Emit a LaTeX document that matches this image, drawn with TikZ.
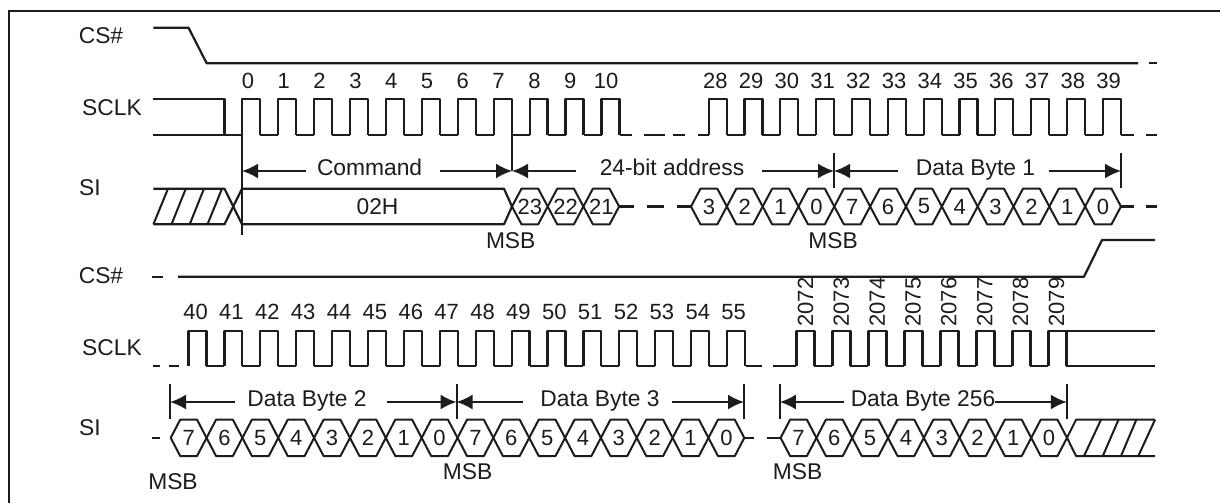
\documentclass[tikz,border=0pt]{standalone}
\usepackage{fontspec}
\setmainfont{Liberation Sans}
\usetikzlibrary{arrows.meta}
\definecolor{ink}{HTML}{1C1C1C}
\tikzset{
  wave/.style={draw=ink,line width=2.2pt,line join=round},
  thin wave/.style={draw=ink,line width=2pt,line join=round},
  span/.style={draw=ink,line width=2pt,-{Latex[length=16pt,width=15pt]}},
  tick line/.style={draw=ink,line width=2pt},
  lab/.style={text=ink,font=\fontsize{22.8}{23}\selectfont,inner sep=0pt},
  digit/.style={text=ink,font=\fontsize{22}{23}\selectfont,inner sep=0pt},
}
% \pulsetrain{first rising x}{period}{count}{high y}{low y}
\newcommand{\pulsetrain}[5]{%
  \foreach \k in {1,...,#3}{%
    \pgfmathsetmacro{\xa}{#1+(\k-1)*#2}%
    \pgfmathsetmacro{\xb}{\xa+#2/2}%
    \pgfmathsetmacro{\xc}{\xa+#2}%
    \draw[wave] (\xa,#5) -- (\xa,#4) -- (\xb,#4) -- (\xb,#5);
    \ifnum\k<#3 \draw[wave] (\xb,#5) -- (\xc,#5);\fi
  }%
}
% \hexrun{tip x}{period}{list of labels}{top y}{bottom y}
\newcommand{\hexrun}[5]{%
  \pgfmathsetmacro{\ym}{(#4+#5)/2}%
  \foreach \t [count=\k] in {#3}{%
    \pgfmathsetmacro{\xa}{#1+(\k-1)*#2}%
    \pgfmathsetmacro{\xb}{\xa+#2}%
    \pgfmathsetmacro{\xc}{(\xa+\xb)/2}%
    \draw[thin wave] (\xa,\ym) -- (\xa+9.5,#4) -- (\xb-9.5,#4) -- (\xb,\ym) -- (\xb-9.5,#5) -- (\xa+9.5,#5) -- cycle;
    \node[digit] (hex-#1-\k) at (\xc,\ym) {\t};
  }%
}
\begin{document}
\begin{tikzpicture}[x=1pt,y=-1pt]
\useasboundingbox (0,0) rectangle (1220,503);
\fill[white] (0,0) rectangle (1220,503);

% frame
\draw[draw=ink,line width=2.4pt] (8.7,503) -- (8.7,11) -- (1220,11);

% ---- upper row ----
\node[lab] (cs1) at (101,36) {CS\#};
\node[lab] (sclk1) at (112,108) {SCLK};
\node[lab] (si1) at (90,188) {SI};

\draw[wave] (153.4,27.7) -- (188.5,27.7) -- (206.7,63.3) -- (1138,63.3);
\draw[wave] (1149.4,63.3) -- (1157,63.3);

% SCLK upper
\draw[wave] (153.4,99.3) -- (224.5,99.3) -- (224.5,135.3);
\draw[wave] (153.4,135.3) -- (242,135.3);
\pulsetrain{242}{35.95}{11}{99.3}{135.3}
\draw[wave] (619.5,135.3) -- (631.6,135.3);
\draw[wave] (644,135.3) -- (665,135.3);
\draw[wave] (673,135.3) -- (685,135.3);
\draw[wave] (698,135.3) -- (708.7,135.3);
\pulsetrain{708.7}{35.83}{12}{99.3}{135.3}
\draw[wave] (1121,135.3) -- (1133.6,135.3);
\draw[wave] (1145.5,135.3) -- (1157,135.3);

\foreach \i in {0,...,10}{\node[digit] (a\i) at (248+35.8*\i,81) {\i};}
\foreach \i [count=\k from 0] in {28,...,39}{\node[digit] (b\i) at (715.4+35.75*\k,81) {\i};}

% SI upper
\draw[thin wave] (153.4,224.3) -- (168,188.7);
\draw[thin wave] (171.5,224.3) -- (185.8,188.7);
\draw[thin wave] (189.7,224.3) -- (204,188.7);
\draw[thin wave] (207.5,224.3) -- (222,188.7);
\draw[wave] (153.4,188.7) -- (224.5,188.7) -- (242,224.3) -- (504,224.3) -- (512,206.5);
\draw[wave] (153.4,224.3) -- (224.5,224.3) -- (242,188.7) -- (504,188.7) -- (512,206.5);
\node[lab] (cmdval) at (377.5,206.7) {02H};
\hexrun{512}{35.7}{23,22,21}{188.7}{224.3}
\draw[wave] (619,206.5) -- (633.6,206.5);
\draw[wave] (647.4,206.5) -- (664,206.5);
\draw[wave] (677,206.5) -- (691,206.5);
\hexrun{691}{35.83}{3,2,1,0,7,6,5,4,3,2,1,0}{188.7}{224.3}
\draw[wave] (1121,206.5) -- (1133.6,206.5);
\draw[wave] (1145.5,206.5) -- (1157,206.5);

% spans upper
\draw[tick line] (242,135.3) -- (242,235);
\draw[tick line] (512,135.3) -- (512,171);
\draw[tick line] (834,153) -- (834,188);
\draw[tick line] (1121,153) -- (1121,188);

\coordinate (s0) at (242,171);
\coordinate (s1) at (512,171);
\coordinate (s2) at (834,171);
\coordinate (s3) at (1121,171);
\node[lab] (cmd) at (369.6,167) {Command};
\node[lab] (addr) at (672,167) {24-bit address};
\node[lab] (db1) at (975.5,170) {Data Byte 1};
\coordinate (cmdL) at (306,171);
\coordinate (cmdR) at (439.5,171);
\coordinate (addrL) at (576,171);
\coordinate (addrR) at (762,171);
\coordinate (db1L) at (898.4,171);
\coordinate (db1R) at (1048.6,171);
\draw[span] (cmdL) -- (s0);
\draw[span] (cmdR) -- (s1);
\draw[span] (addrL) -- (s1);
\draw[span] (addrR) -- (s2);
\draw[span] (db1L) -- (s2);
\draw[span] (db1R) -- (s3);

\node[lab] (msb1) at (510.7,240.7) {MSB};
\node[lab] (msb2) at (833,240.7) {MSB};

% ---- lower row ----
\node[lab] (cs2) at (101,276) {CS\#};
\node[lab] (sclk2) at (112,348) {SCLK};
\node[lab] (si2) at (90,428) {SI};

\draw[wave] (152,276.7) -- (163,276.7);
\draw[wave] (178,276.7) -- (1084,276.7) -- (1102,240) -- (1155,240);

% SCLK lower
\draw[wave] (153,366.3) -- (160,366.3);
\draw[wave] (169,366.3) -- (178.7,366.3);
\pulsetrain{188.5}{35.9}{16}{330.7}{366.3}
\draw[wave] (745.5,366.3) -- (762,366.3);
\draw[wave] (773,366.3) -- (796.4,366.3);
\pulsetrain{796.4}{36}{8}{330.7}{366.3}
\draw[wave] (1048.6,330.7) -- (1155,330.7);
\draw[wave] (1066.4,366.3) -- (1155,366.3);

\foreach \i [count=\k from 0] in {40,...,55}{\node[digit] (c\i) at (195.6+35.87*\k,311.7) {\i};}
\foreach \i [count=\k from 0] in {2072,...,2079}{\node[digit,rotate=90] (d\i) at (805.5+35.85*\k,302) {\i};}

% SI lower
\draw[wave] (152,437.7) -- (160,437.7);
\hexrun{170.7}{35.85}{7,6,5,4,3,2,1,0,7,6,5,4,3,2,1,0}{419.7}{456}
\draw[wave] (744.3,437.7) -- (754,437.7);
\draw[wave] (767,437.7) -- (780.6,437.7);
\hexrun{780.6}{35.8}{7,6,5,4,3,2,1,0}{419.7}{456}
\draw[thin wave] (1067,437.7) -- (1076,419.7) -- (1155,419.7);
\draw[thin wave] (1067,437.7) -- (1076,456) -- (1155,456);
\draw[thin wave] (1084,456) -- (1101,419.7);
\draw[thin wave] (1102.8,456) -- (1118.5,419.7);
\draw[thin wave] (1121,456) -- (1136.3,419.7);
\draw[thin wave] (1138.3,456) -- (1155,419.7);

% spans lower
\foreach \n/\x in {t0/170,t1/456.5,t2/744,t3/779.8,t4/1066.8}{
  \coordinate (\n) at (\x,402);
  \draw[tick line] (\x,384.3) -- (\x,419.3);
}
\node[lab] (db2) at (307,400.7) {Data Byte 2};
\node[lab] (db3) at (600,400.7) {Data Byte 3};
\node[lab] (db256) at (923,400.7) {Data Byte 256};
\coordinate (db2L) at (235,402);
\coordinate (db2R) at (386.6,402);
\coordinate (db3L) at (523,402);
\coordinate (db3R) at (672,402);
\coordinate (db256L) at (844,402);
\coordinate (db256R) at (994.5,402);
\draw[span] (db2L) -- (t0);
\draw[span] (db2R) -- (t1);
\draw[span] (db3L) -- (t1);
\draw[span] (db3R) -- (t2);
\draw[span] (db256L) -- (t3);
\draw[span] (db256R) -- (t4);

\node[lab] (msb3) at (173,481.7) {MSB};
\node[lab] (msb4) at (467.6,472) {MSB};
\node[lab] (msb5) at (797.6,472) {MSB};
\end{tikzpicture}
\end{document}
